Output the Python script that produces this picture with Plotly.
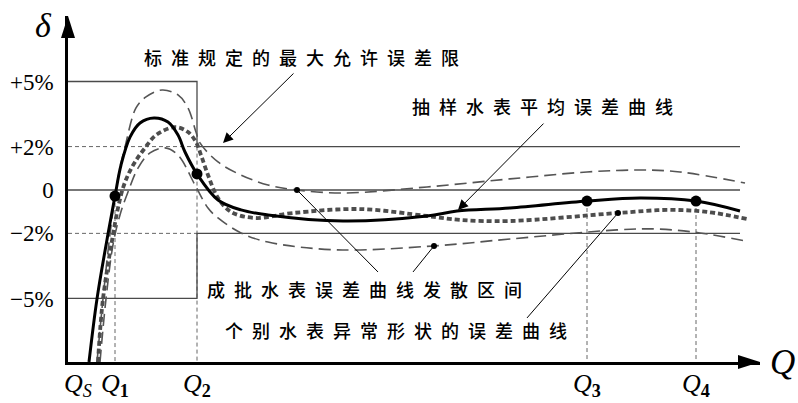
import plotly.graph_objects as go

# ---------------- data (schematic units: x = flow position, y = error in %) -------------
q_names = ["QS", "Q1", "Q2", "Q3", "Q4"]
q_pos = [1.0, 4.7, 12.9, 51.9, 62.8]
q_text = ["<i>Q</i><sub><i>S</i></sub>", "<i>Q</i><sub><b>1</b></sub>", "<i>Q</i><sub><b>2</b></sub>",
          "<i>Q</i><sub><b>3</b></sub>", "<i>Q</i><sub><b>4</b></sub>"]
y_ticks = [5, 2, 0, -2, -5]
y_tick_text = ["+5%", "+2%", "0", "\u22122%", "\u22125%"]

x_end = 67.2          # end of the limit / reference lines
x_max = 69.2          # arrow tip of the Q axis
y_min, y_max = -7.93, 8.02

# maximum permissible error limits (upper / lower)
lim_up_x = [0, 12.9, 12.9, 67.2]
lim_up_y = [5, 5, 2, 2]
lim_lo_x = [0, 12.9, 12.9, 67.2]
lim_lo_y = [-5, -5, -2, -2]

# mean error curve of the sampled meters
mean_x = [2.1, 2.9, 4.0, 4.7, 5.3, 6.2, 7.2, 8.6, 10.0, 11.0, 11.7, 12.9, 15.0, 17.3, 20.0,
          27.5, 35.9, 38.9, 44.2, 51.9, 57.2, 62.8, 67.2]
mean_y = [-7.93, -5.02, -2.03, -0.28, 1.15, 2.44, 3.09, 3.32, 3.13, 2.53, 1.75, 0.74, -0.46,
          -0.92, -1.15, -1.43, -1.20, -0.97, -0.83, -0.51, -0.37, -0.51, -0.97]
mean_dot_x = [4.7, 12.9, 51.9, 62.8]
mean_dot_y = [-0.28, 0.74, -0.51, -0.51]

# upper envelope of the batch error curves
up_x = [2.9, 3.5, 4.2, 4.8, 5.2, 5.7, 6.8, 7.8, 9.4, 11.0, 12.0, 12.8, 13.2, 15.0, 17.3, 20.0,
        22.9, 27.5, 35.9, 44.2, 51.9, 57.2, 61.2, 67.7]
up_y = [-7.93, -5.02, -2.03, 0.0, 1.01, 1.98, 3.78, 4.29, 4.61, 4.38, 3.78, 2.67, 2.17, 1.29,
        0.69, 0.23, 0.0, -0.14, 0.14, 0.51, 0.83, 0.92, 0.83, 0.32]

# lower envelope of the batch error curves
lo_x = [3.2, 3.8, 4.5, 5.2, 6.0, 7.0, 8.2, 9.7, 11.0, 12.7, 14.0, 15.0, 17.3, 20.0, 26.9, 36.6,
        44.2, 54.9, 58.9, 63.2, 67.7]
lo_y = [-7.93, -5.02, -2.53, -1.15, -0.09, 1.01, 1.71, 1.94, 1.61, 0.23, -0.83, -1.29, -1.98,
        -2.40, -2.76, -2.58, -2.26, -1.84, -1.80, -1.98, -2.35]

# error curve of an individual meter with abnormal shape
ab_x = [3.0, 3.5, 4.5, 5.0, 5.5, 6.0, 6.7, 7.7, 8.8, 10.7, 12.0, 12.8, 13.3, 14.0, 15.0, 16.3,
        18.7, 22.5, 29.2, 35.9, 39.2, 44.2, 55.0, 59.9, 63.9, 67.9]
ab_y = [-7.93, -5.02, -2.07, -0.83, 0.09, 0.69, 1.29, 1.94, 2.53, 2.90, 2.67, 2.21, 1.61, 0.69,
        -0.37, -1.01, -1.29, -1.06, -0.88, -1.20, -1.38, -1.43, -1.06, -0.92, -1.01, -1.34]

# annotation texts and their anchors
labels = ["标准规定的最大允许误差限", "抽样水表平均误差曲线", "成批水表误差曲线发散区间", "个别水表异常形状的误差曲线"]
label_x = [7.4, 34.2, 13.7, 15.5]
label_y = [6.13, 3.87, -4.55, -6.45]

# arrows (tail -> tip)
arrow_tail_x = [22.7, 47.7]
arrow_tail_y = [5.44, 3.13]
arrow_tip_x = [15.5, 39.0]
arrow_tip_y = [2.17, -0.92]

# leader lines starting from small dots on curves
lead_from_x = [22.9, 36.6, 55.0]
lead_from_y = [0.0, -2.58, -1.06]
lead_to_x = [31.0, 34.5, 45.9]
lead_to_y = [-3.78, -3.78, -5.90]

# ---------------- figure ----------------
W, H = 798, 403
ML, MR, MT, MB = 68, 38, 16, 41
PW, PH = W - ML - MR, H - MT - MB
GRAY = "#4a4a4a"
fig = go.Figure()

def line(x, y, color=GRAY, width=1.2, dash=None, shape="linear"):
    fig.add_trace(go.Scatter(x=x, y=y, mode="lines", hoverinfo="skip", showlegend=False,
                             line=dict(color=color, width=width, dash=dash, shape=shape)))

# reference lines
line([0, q_pos[2]], [2, 2], color="#666", width=1, dash="4px,3px")
line([0, q_pos[2]], [-2, -2], color="#666", width=1, dash="4px,3px")
line([q_pos[2], q_pos[2]], [2, y_min], color="#666", width=1, dash="4px,3px")
line([q_pos[1], q_pos[1]], [mean_dot_y[0], y_min], color="#666", width=1, dash="4px,3px")
line([q_pos[3], q_pos[3]], [mean_dot_y[2], y_min], color="#666", width=1, dash="4px,3px")
line([q_pos[4], q_pos[4]], [mean_dot_y[3], y_min], color="#666", width=1, dash="4px,3px")
line([0, x_end], [0, 0], color=GRAY, width=1.3)
line(lim_up_x, lim_up_y, color=GRAY, width=1.3)
line(lim_lo_x, lim_lo_y, color=GRAY, width=1.3)

# curves
line(up_x, up_y, color="#555", width=1.6, dash="12px,6px", shape="spline")
line(lo_x, lo_y, color="#555", width=1.6, dash="12px,6px", shape="spline")
line(ab_x, ab_y, color="#4d4d4d", width=3.8, dash="5px,3px", shape="spline")
line(mean_x, mean_y, color="black", width=3, shape="spline")

fig.add_trace(go.Scatter(x=mean_dot_x, y=mean_dot_y, mode="markers", hoverinfo="skip", showlegend=False,
                         marker=dict(color="black", size=11)))

# leader lines
for fx, fy, tx, ty in zip(lead_from_x, lead_from_y, lead_to_x, lead_to_y):
    line([fx, tx], [fy, ty], color="black", width=1)
fig.add_trace(go.Scatter(x=lead_from_x, y=lead_from_y, mode="markers", hoverinfo="skip", showlegend=False,
                         marker=dict(color="black", size=6)))

# arrows
for tx, ty, hx, hy in zip(arrow_tail_x, arrow_tail_y, arrow_tip_x, arrow_tip_y):
    fig.add_annotation(x=hx, y=hy, ax=tx, ay=ty, xref="x", yref="y", axref="x", ayref="y",
                       text="", showarrow=True, arrowhead=2, arrowsize=2, arrowwidth=1,
                       arrowcolor="black")

# texts
for t, x, y in zip(labels, label_x, label_y):
    fig.add_annotation(x=x, y=y, xref="x", yref="y", xanchor="left", yanchor="middle", showarrow=False,
                       text='<span style="letter-spacing:9px">' + t + '</span>',
                       font=dict(family="Noto Sans CJK SC", size=18, color="black", weight=500))

# axis names
fig.add_annotation(x=-25 / PW, y=1 - 9 / PH, xref="paper", yref="paper", text="<i>δ</i>", showarrow=False,
                   xanchor="center", yanchor="middle",
                   font=dict(family="Liberation Serif", size=34, color="black"))
fig.add_annotation(x=1 + 23 / PW, y=0.0, xref="paper", yref="paper", text="<i>Q</i>", showarrow=False,
                   xanchor="center", yanchor="middle",
                   font=dict(family="Liberation Serif", size=35, color="black"))

# axis arrow heads (triangles in paper space, sized in pixels)
hl, hw = 22, 7
fig.add_shape(type="path", xref="paper", yref="paper", layer="above",
              path=f"M0,1 L{-hw / PW},{1 - hl / PH} L{hw / PW},{1 - hl / PH} Z",
              fillcolor="black", line=dict(width=0))
fig.add_shape(type="path", xref="paper", yref="paper", layer="above",
              path=f"M1,0 L{1 - hl / PW},{hw / PH} L{1 - hl / PW},{-hw / PH} Z",
              fillcolor="black", line=dict(width=0))

fig.update_layout(
    width=W, height=H,
    margin=dict(l=ML, r=MR, t=MT, b=MB, autoexpand=False),
    plot_bgcolor="white", paper_bgcolor="white",
    xaxis=dict(range=[0, x_max], showgrid=False, zeroline=False, showline=True, linecolor="black",
               linewidth=2.5, tickmode="array", tickvals=q_pos, ticktext=q_text, ticks="",
               ticklabelstandoff=-4, automargin=False,
               tickfont=dict(family="Liberation Serif", size=26, color="black")),
    yaxis=dict(range=[y_min, y_max], showgrid=False, zeroline=False, showline=True, linecolor="black",
               linewidth=2.5, tickmode="array", tickvals=y_ticks, ticktext=y_tick_text, ticks="",
               ticklabelstandoff=7, automargin=False,
               tickfont=dict(family="Liberation Serif", size=23, color="black")),
)

fig.write_html("out.html", config={"displayModeBar": False},
               post_script="document.body.style.margin='0';document.body.style.overflow='hidden';")
